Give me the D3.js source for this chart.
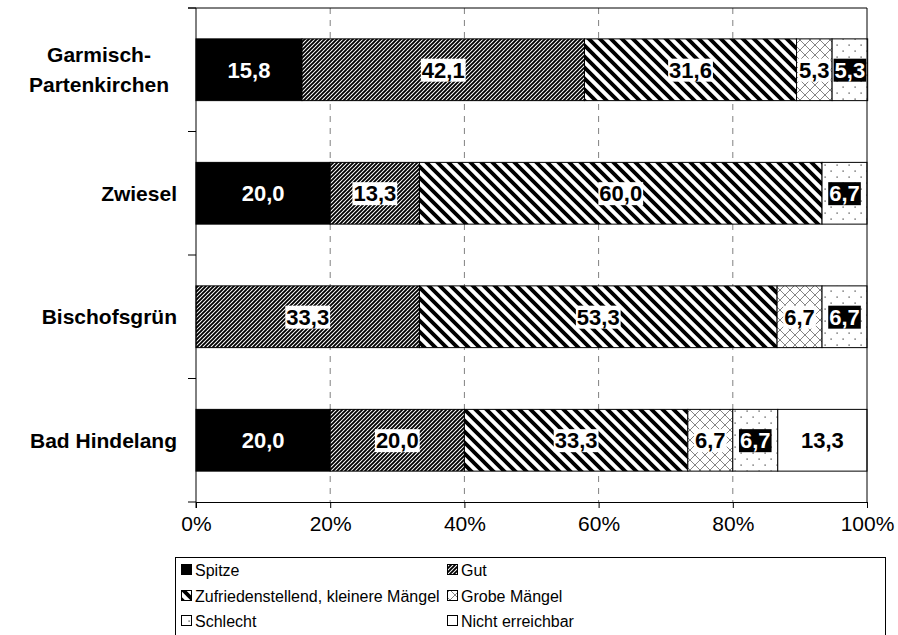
<!DOCTYPE html>
<html>
<head>
<meta charset="utf-8">
<script src="https://cdn.jsdelivr.net/npm/d3@7"></script>
<style>
  body { margin: 0; background: #fff; }
  svg { display: block; font-family: "Liberation Sans", Arial, sans-serif; }
  svg text { font-family: "Liberation Sans", Arial, sans-serif; }
</style>
</head>
<body>
<div id="chart"></div>
<script>
// data
const categories = ["Garmisch-Partenkirchen", "Zwiesel", "Bischofsgrün", "Bad Hindelang"];
const categoryLines = [["Garmisch-", "Partenkirchen"], ["Zwiesel"], ["Bischofsgrün"], ["Bad Hindelang"]];
const seriesNames = ["Spitze", "Gut", "Zufriedenstellend, kleinere Mängel", "Grobe Mängel", "Schlecht", "Nicht erreichbar"];
const spitze     = [15.8, 20.0, 0, 20.0];
const gut        = [42.1, 13.3, 33.3, 20.0];
const zufrieden  = [31.6, 60.0, 53.3, 33.3];
const grobe      = [5.3, 0, 6.7, 6.7];
const schlecht   = [5.3, 6.7, 6.7, 6.7];
const nicht      = [0, 0, 0, 13.3];
const xTicks = [0, 20, 40, 60, 80, 100];

const seriesValues = [spitze, gut, zufrieden, grobe, schlecht, nicht];
const rows = categories.map((c, i) => {
  const r = { cat: c };
  seriesNames.forEach((s, j) => r[s] = seriesValues[j][i]);
  return r;
});

const W = 898, H = 635;
const dims = { left: 196, right: 867, top: 8, bottom: 502 };

// how each series is filled and labelled
const looks = {
  "Spitze":                             { fill: "#000",             text: "#fff", box: null },
  "Gut":                                { fill: "url(#p-gut)",      text: "#000", box: "#fff" },
  "Zufriedenstellend, kleinere Mängel": { fill: "url(#p-zuf)",      text: "#000", box: "#fff" },
  "Grobe Mängel":                       { fill: "url(#p-grobe)",    text: "#000", box: "#fff" },
  "Schlecht":                           { fill: "url(#p-schlecht)", text: "#fff", box: "#000" },
  "Nicht erreichbar":                   { fill: "#fff",             text: "#000", box: null }
};

const svg = d3.select("#chart").append("svg")
  .attr("width", W).attr("height", H)
  .attr("viewBox", [0, 0, W, H]);

// patterns
const defs = svg.append("defs");
function pat(id, size, draw) {
  const p = defs.append("pattern").attr("id", id)
    .attr("patternUnits", "userSpaceOnUse")
    .attr("width", size).attr("height", size);
  p.append("rect").attr("width", size).attr("height", size).attr("fill", "#fff");
  draw(p);
}
pat("p-gut", 4, p => p.append("path")
  .attr("d", "M-1,1 L1,-1 M0,4 L4,0 M3,5 L5,3")
  .attr("stroke", "#000").attr("stroke-width", 1.9));
pat("p-zuf", 11, p => p.append("path")
  .attr("d", "M-2,-2 L13,13 M-2,9 L2,13 M9,-2 L13,2")
  .attr("stroke", "#000").attr("stroke-width", 3.8));
pat("p-grobe", 10, p => p.append("path")
  .attr("d", "M0,0 L10,10 M10,0 L0,10")
  .attr("stroke", "#666").attr("stroke-width", 0.8));
pat("p-schlecht", 12, p => {
  p.append("rect").attr("x", 2.5).attr("y", 2.5).attr("width", 1.2).attr("height", 1.2).attr("fill", "#333");
  p.append("rect").attr("x", 8.5).attr("y", 8.5).attr("width", 1.2).attr("height", 1.2).attr("fill", "#333");
});

const x = d3.scaleLinear().domain([0, 100]).range([dims.left, dims.right]);
const y = d3.scaleBand().domain(categories)
  .range([dims.top, dims.bottom])
  .paddingInner(0.5).paddingOuter(0.25);

// dashed grid
svg.append("g")
  .selectAll("line")
  .data(xTicks.filter(t => t > 0 && t < 100))
  .join("line")
  .attr("x1", d => x(d)).attr("x2", d => x(d))
  .attr("y1", dims.top).attr("y2", dims.bottom)
  .attr("stroke", "#808080").attr("stroke-width", 1)
  .attr("stroke-dasharray", "6,6");

// stacked bars
const stacked = d3.stack().keys(seriesNames)(rows);
const barG = svg.append("g");
stacked.forEach(layer => {
  const look = looks[layer.key];
  barG.append("g")
    .selectAll("rect")
    .data(layer.filter(d => d[1] - d[0] > 0))
    .join("rect")
    .attr("x", d => x(d[0]))
    .attr("y", d => y(d.data.cat))
    .attr("width", d => x(d[1]) - x(d[0]))
    .attr("height", y.bandwidth())
    .attr("fill", look.fill)
    .attr("stroke", "#000")
    .attr("stroke-width", 1);
});

// value labels
const fmt = v => d3.format(".1f")(v).replace(".", ",");
stacked.forEach(layer => {
  const look = looks[layer.key];
  layer.filter(d => d[1] - d[0] > 0).forEach(d => {
    const g = barG.append("g");
    const t = g.append("text")
      .attr("x", x((d[0] + d[1]) / 2))
      .attr("y", y(d.data.cat) + y.bandwidth() / 2)
      .attr("dy", "0.36em")
      .attr("text-anchor", "middle")
      .attr("font-size", 22)
      .attr("font-weight", "bold")
      .attr("fill", look.text)
      .text(fmt(d[1] - d[0]));
    if (look.box) {
      const b = t.node().getBBox();
      g.insert("rect", "text")
        .attr("x", b.x - 1).attr("y", b.y + 1)
        .attr("width", b.width + 2).attr("height", b.height - 2)
        .attr("fill", look.box);
    }
  });
});

// frame: top and right edges
svg.append("line")
  .attr("x1", dims.left - 8).attr("x2", dims.right)
  .attr("y1", dims.top).attr("y2", dims.top)
  .attr("stroke", "#000");
svg.append("line")
  .attr("x1", dims.right).attr("x2", dims.right)
  .attr("y1", dims.top).attr("y2", dims.bottom)
  .attr("stroke", "#000");

// x axis
svg.append("g")
  .attr("transform", `translate(0,${dims.bottom})`)
  .call(d3.axisBottom(x).tickValues(xTicks).tickFormat(d => d + "%")
    .tickSize(6).tickSizeOuter(0).tickPadding(8))
  .attr("font-family", null)
  .call(g => g.select(".domain").attr("stroke", "#000"))
  .call(g => g.selectAll(".tick line").attr("stroke", "#000"))
  .call(g => g.selectAll("text")
    .attr("font-size", 21).attr("fill", "#000"));

// y axis: line plus ticks at band boundaries
const bounds = categories.map(c => y(c) - y.step() * y.paddingInner() / 2)
  .map((v, i) => i === 0 ? dims.top : v).concat([dims.bottom]);
svg.append("line")
  .attr("x1", dims.left).attr("x2", dims.left)
  .attr("y1", dims.top).attr("y2", dims.bottom + 6)
  .attr("stroke", "#000");
svg.append("g").selectAll("line")
  .data(bounds)
  .join("line")
  .attr("x1", dims.left - 8).attr("x2", dims.left)
  .attr("y1", d => d).attr("y2", d => d)
  .attr("stroke", "#000");

// category labels
categories.forEach((c, i) => {
  const lines = categoryLines[i];
  const cy = y(c) + y.bandwidth() / 2;
  const t = svg.append("text")
    .attr("font-size", 21)
    .attr("font-weight", "bold");
  lines.forEach((ln, k) => {
    t.append("tspan")
      .attr("x", lines.length > 1 ? 99 : 177)
      .attr("text-anchor", lines.length > 1 ? "middle" : "end")
      .attr("y", cy + (k - (lines.length - 1) / 2) * 30)
      .attr("dy", "0.36em")
      .text(ln);
  });
});

// legend
const legend = svg.append("g").attr("class", "legend");
legend.append("rect")
  .attr("x", 175.5).attr("y", 557.5)
  .attr("width", 710).attr("height", 90)
  .attr("fill", "#fff").attr("stroke", "#000");
const legCols = [181, 447], legRows = [570, 596, 621];
seriesNames.forEach((s, i) => {
  const lx = legCols[i % 2], ly = legRows[Math.floor(i / 2)];
  legend.append("rect")
    .attr("x", lx + 0.5).attr("y", ly - 5.5)
    .attr("width", 10).attr("height", 10)
    .attr("fill", looks[s].fill).attr("stroke", "#000");
  legend.append("text")
    .attr("x", lx + 14).attr("y", ly)
    .attr("dy", "0.36em")
    .attr("font-size", 16)
    .text(s);
});
</script>
</body>
</html>
